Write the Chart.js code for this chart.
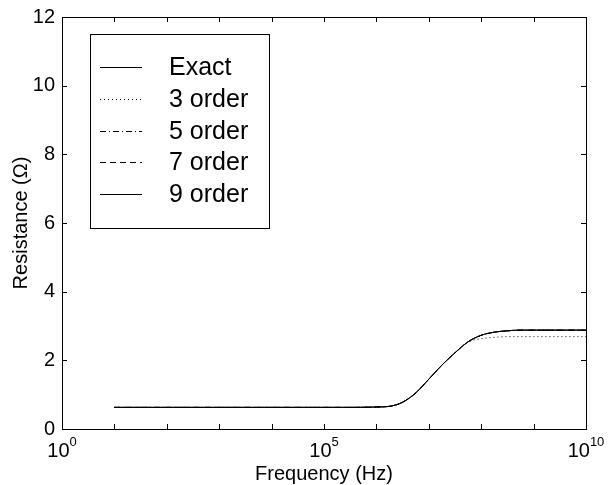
<!DOCTYPE html>
<html>
<head>
<meta charset="utf-8">
<script src="https://cdn.jsdelivr.net/npm/chart.js@4.4.1/dist/chart.umd.min.js"></script>
<style>
  html, body { margin: 0; padding: 0; background: #fff; }
  canvas { display: block; }
</style>
</head>
<body>
<canvas id="res" width="609" height="485"></canvas>
<script>
// Resistance vs frequency: exact curve and rational fits of several orders.
const logFreq = [1, 2, 3, 4, 5, 5.5, 6, 6.25, 6.5, 6.75, 7, 7.25, 7.5, 7.75, 8, 8.25, 8.5, 8.75, 9, 9.5, 10];
const exactR  = [0.63, 0.63, 0.63, 0.63, 0.63, 0.63, 0.64, 0.66, 0.78, 1.05, 1.45, 1.86, 2.22, 2.54, 2.73, 2.82, 2.86, 2.88, 2.88, 2.88, 2.88];
const order3R = [0.63, 0.63, 0.63, 0.63, 0.63, 0.63, 0.64, 0.66, 0.78, 1.05, 1.45, 1.86, 2.22, 2.53, 2.63, 2.67, 2.69, 2.69, 2.69, 2.69, 2.69];
const order5R = [0.63, 0.63, 0.63, 0.63, 0.63, 0.63, 0.64, 0.66, 0.78, 1.05, 1.45, 1.86, 2.22, 2.54, 2.73, 2.82, 2.86, 2.88, 2.88, 2.88, 2.88];
const order7R = [0.63, 0.63, 0.63, 0.63, 0.63, 0.63, 0.64, 0.66, 0.78, 1.05, 1.45, 1.86, 2.22, 2.54, 2.73, 2.82, 2.86, 2.88, 2.88, 2.88, 2.88];
const order9R = [0.63, 0.63, 0.63, 0.63, 0.63, 0.63, 0.64, 0.66, 0.78, 1.05, 1.45, 1.86, 2.22, 2.54, 2.73, 2.82, 2.86, 2.88, 2.88, 2.88, 2.88];

const seriesLabels = ['Exact', '3 order', '5 order', '7 order', '9 order'];
const seriesValues = [exactR, order3R, order5R, order7R, order9R];
const seriesDash = [[], [1, 3], [6, 3, 1, 3], [6, 4], []];

const xDecades = [0, 1, 2, 3, 4, 5, 6, 7, 8, 9, 10];
const xLabelExps = [0, 5, 10];
const yTicks = [0, 2, 4, 6, 8, 10, 12];

const FONT = '"Liberation Sans", Arial, Helvetica, sans-serif';
Chart.defaults.font.family = FONT;
Chart.defaults.color = '#000';

const pts = vals => vals.map((v, i) => ({ x: Math.pow(10, logFreq[i]), y: v }));

// frame, inward ticks, x labels with exponents, axis titles and the boxed legend
const matlabAxes = {
  id: 'matlabAxes',
  afterDraw(chart) {
    const ctx = chart.ctx;
    const a = chart.chartArea;
    const xs = chart.scales.x, ys = chart.scales.y;
    const tl = 5;
    ctx.save();
    ctx.strokeStyle = '#000';
    ctx.lineWidth = 1;
    ctx.strokeRect(Math.round(a.left) + 0.5, Math.round(a.top) + 0.5,
      Math.round(a.right - a.left), Math.round(a.bottom - a.top));

    ctx.beginPath();
    xDecades.forEach(d => {
      const px = Math.round(xs.getPixelForValue(Math.pow(10, d))) + 0.5;
      ctx.moveTo(px, a.bottom); ctx.lineTo(px, a.bottom - tl);
      ctx.moveTo(px, a.top); ctx.lineTo(px, a.top + tl);
    });
    yTicks.forEach(v => {
      const py = Math.round(ys.getPixelForValue(v)) + 0.5;
      ctx.moveTo(a.left, py); ctx.lineTo(a.left + tl, py);
      ctx.moveTo(a.right, py); ctx.lineTo(a.right - tl, py);
    });
    ctx.stroke();

    // x tick labels: 10 with superscript exponent
    ctx.fillStyle = '#000';
    ctx.textBaseline = 'alphabetic';
    ctx.textAlign = 'left';
    xLabelExps.forEach(e => {
      const px = xs.getPixelForValue(Math.pow(10, e));
      ctx.font = '20px ' + FONT;
      const wBase = ctx.measureText('10').width;
      ctx.font = '13px ' + FONT;
      const wExp = ctx.measureText(String(e)).width;
      const x0 = px - (wBase + wExp) / 2;
      ctx.font = '20px ' + FONT;
      ctx.fillText('10', x0, 457);
      ctx.font = '13px ' + FONT;
      ctx.fillText(String(e), x0 + wBase, 446);
    });

    // axis titles
    ctx.font = '20px ' + FONT;
    ctx.textAlign = 'center';
    ctx.fillText('Frequency (Hz)', (a.left + a.right) / 2, 480);
    ctx.save();
    ctx.translate(27, (a.top + a.bottom) / 2);
    ctx.rotate(-Math.PI / 2);
    ctx.fillText('Resistance (\u03A9)', 0, 0);
    ctx.restore();

    // legend box
    const bx = a.left + 28, by = a.top + 17, bw = 179, bh = 194;
    ctx.fillStyle = '#fff';
    ctx.fillRect(bx, by, bw, bh);
    ctx.strokeStyle = '#000';
    ctx.strokeRect(Math.round(bx) + 0.5, Math.round(by) + 0.5, bw, bh);
    ctx.font = '25px ' + FONT;
    ctx.textAlign = 'left';
    ctx.textBaseline = 'middle';
    chart.data.datasets.forEach((ds, i) => {
      const ry = Math.round(by + 33 + i * 31.8) + 0.5;
      ctx.beginPath();
      ctx.setLineDash(ds.borderDash);
      ctx.strokeStyle = '#000';
      ctx.moveTo(bx + 10, ry);
      ctx.lineTo(bx + 52, ry);
      ctx.stroke();
      ctx.setLineDash([]);
      ctx.fillStyle = '#000';
      ctx.fillText(ds.label, bx + 79, ry + 1);
    });
    ctx.restore();
  }
};

new Chart(document.getElementById('res'), {
  type: 'line',
  data: {
    datasets: seriesLabels.map((name, i) => ({
      label: name,
      data: pts(seriesValues[i]),
      borderColor: '#000',
      borderWidth: 1,
      borderDash: seriesDash[i],
      pointRadius: 0,
      fill: false,
      cubicInterpolationMode: 'monotone'
    }))
  },
  options: {
    responsive: false,
    animation: false,
    layout: { padding: { top: 16, right: 23, left: 0, bottom: 0 } },
    plugins: { legend: { display: false }, tooltip: { enabled: false } },
    scales: {
      x: {
        type: 'logarithmic',
        min: 1,
        max: 1e10,
        grid: { display: false, drawTicks: false },
        border: { display: false },
        ticks: { display: false },
        afterFit: s => { s.height = 56; }
      },
      y: {
        min: 0,
        max: 12,
        grid: { display: false, drawTicks: false },
        border: { display: false },
        ticks: {
          stepSize: 2,
          padding: 7,
          color: '#000',
          font: { size: 20, lineHeight: 1 }
        },
        afterFit: s => { s.width = 62; }
      }
    }
  },
  plugins: [matlabAxes]
});
</script>
</body>
</html>
